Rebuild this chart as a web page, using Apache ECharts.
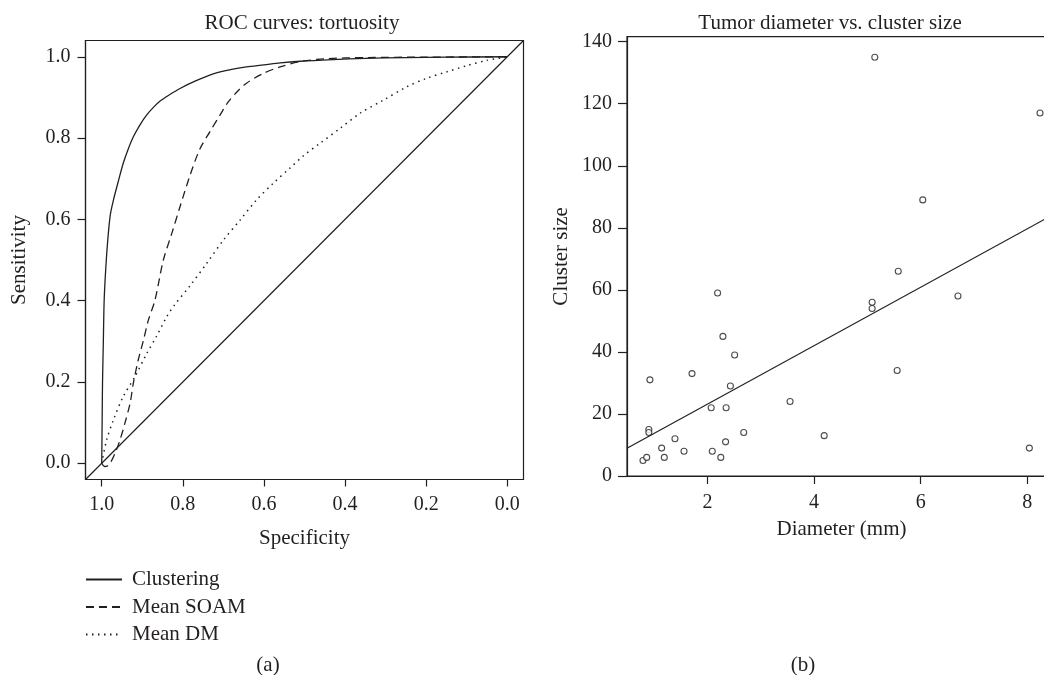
<!DOCTYPE html>
<html>
<head>
<meta charset="utf-8">
<script src="https://cdn.jsdelivr.net/npm/echarts@6/dist/echarts.min.js"></script>
<style>
html,body{margin:0;padding:0;background:#fff;}
#chart{width:1044px;height:675px;}
</style>
</head>
<body>
<div id="chart"></div>
<script>
// ---- Panel (a): ROC curves (specificity, sensitivity) ----
const clusteringSpec = [1.0,0.999,0.998,0.996,0.994,0.99,0.985,0.979,0.971,0.96,0.947,0.935,0.922,0.906,0.889,0.872,0.856,0.832,0.807,0.77,0.725,0.685,0.643,0.60,0.56,0.511,0.43,0.35,0.25,0.15,0.0];
const clusteringSens = [0.0,0.1,0.2,0.3,0.4,0.48,0.55,0.61,0.648,0.69,0.738,0.772,0.803,0.832,0.857,0.876,0.891,0.907,0.922,0.94,0.958,0.968,0.975,0.98,0.985,0.989,0.993,0.996,0.998,0.999,1.0];

const soamSpec = [1.0,0.993,0.985,0.978,0.967,0.955,0.943,0.93,0.922,0.91,0.897,0.885,0.869,0.848,0.827,0.807,0.782,0.758,0.733,0.708,0.688,0.665,0.643,0.602,0.56,0.511,0.45,0.35,0.2,0.0];
const soamSens = [0.0,-0.008,-0.006,0.002,0.025,0.057,0.098,0.148,0.197,0.254,0.303,0.352,0.40,0.5,0.566,0.631,0.709,0.773,0.816,0.857,0.889,0.915,0.935,0.959,0.975,0.988,0.995,0.998,0.999,1.0];

const dmSpec = [1.0,0.988,0.971,0.947,0.918,0.889,0.865,0.84,0.82,0.782,0.741,0.70,0.659,0.618,0.577,0.536,0.503,0.462,0.412,0.363,0.306,0.248,0.199,0.149,0.10,0.051,0.0];
const dmSens = [0.0,0.057,0.107,0.164,0.213,0.27,0.312,0.36,0.39,0.437,0.492,0.549,0.598,0.648,0.689,0.726,0.756,0.787,0.824,0.861,0.893,0.926,0.947,0.963,0.978,0.991,1.0];

const rocTicks = [0, 0.2, 0.4, 0.6, 0.8, 1.0];
const rocRange = [-0.04, 1.04];

// ---- Panel (b): tumor diameter vs cluster size ----
const diameters = [0.79,0.86,0.92,0.90,0.90,1.14,1.19,1.39,1.56,1.71,2.07,2.09,2.19,2.25,2.29,2.35,2.34,2.43,2.51,2.68,3.55,4.19,5.09,5.09,5.14,5.56,5.58,6.04,6.70,8.04,8.24];
const clusterSizes = [5,6,31,15,14,9,6,12,8,33,22,8,59,6,45,22,11,29,39,14,24,13,56,54,135,34,66,89,58,9,117];
const fitIntercept = 4.3;
const fitSlope = 9.42;
const diamTicks = [2, 4, 6, 8];
const sizeTicks = [0, 20, 40, 60, 80, 100, 120, 140];
const diamRange = [0.49, 8.54];
const sizeRange = [0, 141.6];

const legendNames = ['Clustering', 'Mean SOAM', 'Mean DM'];

const INK = '#231f20';
const FONT = '"Liberation Serif", "DejaVu Serif", serif';

function zip(a, b) { return a.map((v, i) => [v, b[i]]); }

const chart = echarts.init(document.getElementById('chart'), null, {renderer: 'canvas'});

const axisCommon = {
  axisLine: {show: true, onZero: false, lineStyle: {color: INK, width: 1.2}},
  splitLine: {show: false},
  axisLabel: {color: INK, fontFamily: FONT, fontSize: 20, margin: 15},
  axisTick: {show: true, length: 8, lineStyle: {color: INK, width: 1.2}},
  nameTextStyle: {color: INK, fontFamily: FONT, fontSize: 21},
  nameLocation: 'middle'
};

function fmt1(v) { return Number(v).toFixed(1); }

const option = {
  backgroundColor: '#ffffff',
  animation: false,
  grid: [
    {left: 85.5, top: 40.5, width: 438, height: 439, show: true, borderColor: INK, borderWidth: 1.2, backgroundColor: 'transparent', outerBoundsMode: 'none', containLabel: false},
    {left: 627, top: 36.7, width: 429, height: 439.3, show: true, borderColor: INK, borderWidth: 1.2, backgroundColor: 'transparent', outerBoundsMode: 'none', containLabel: false}
  ],
  xAxis: [
    Object.assign({}, axisCommon, {
      gridIndex: 0, type: 'value', inverse: true, min: rocRange[0], max: rocRange[1],
      name: 'Specificity', nameGap: 48,
      axisLabel: Object.assign({}, axisCommon.axisLabel, {customValues: rocTicks, formatter: fmt1, margin: 15}),
      axisTick: Object.assign({}, axisCommon.axisTick, {customValues: rocTicks, length: 7})
    }),
    Object.assign({}, axisCommon, {
      gridIndex: 1, type: 'value', min: diamRange[0], max: diamRange[1],
      name: 'Diameter (mm)', nameGap: 43,
      axisLabel: Object.assign({}, axisCommon.axisLabel, {customValues: diamTicks, margin: 17}),
      axisTick: Object.assign({}, axisCommon.axisTick, {customValues: diamTicks, length: 8})
    })
  ],
  yAxis: [
    Object.assign({}, axisCommon, {
      gridIndex: 0, type: 'value', min: rocRange[0], max: rocRange[1],
      name: 'Sensitivity', nameGap: 56,
      axisLabel: Object.assign({}, axisCommon.axisLabel, {customValues: rocTicks, formatter: fmt1}),
      axisTick: Object.assign({}, axisCommon.axisTick, {customValues: rocTicks})
    }),
    Object.assign({}, axisCommon, {
      gridIndex: 1, type: 'value', min: sizeRange[0], max: sizeRange[1],
      name: 'Cluster size', nameGap: 55,
      axisLabel: Object.assign({}, axisCommon.axisLabel, {customValues: sizeTicks}),
      axisTick: Object.assign({}, axisCommon.axisTick, {customValues: sizeTicks, length: 9})
    })
  ],
  legend: {
    data: legendNames,
    orient: 'vertical',
    left: 80,
    top: 564,
    padding: 5,
    itemWidth: 36,
    itemHeight: 12,
    itemGap: 6.5,
    selectedMode: false,
    itemStyle: {color: 'transparent', borderWidth: 0, opacity: 0},
    textStyle: {color: INK, fontFamily: FONT, fontSize: 21, padding: [0, 0, 0, 5]}
  },
  series: [
    {
      name: 'Reference', type: 'line', xAxisIndex: 0, yAxisIndex: 0, symbol: 'none',
      data: [[rocRange[1], rocRange[0]], [rocRange[0], rocRange[1]]],
      lineStyle: {color: INK, width: 1.2}, silent: true, clip: true
    },
    {
      name: 'Clustering', type: 'line', xAxisIndex: 0, yAxisIndex: 0, symbol: 'none', smooth: 0.3,
      data: zip(clusteringSpec, clusteringSens),
      lineStyle: {color: INK, width: 1.3, type: 'solid'}, itemStyle: {color: INK}
    },
    {
      name: 'Mean SOAM', type: 'line', xAxisIndex: 0, yAxisIndex: 0, symbol: 'none', smooth: 0.3,
      data: zip(soamSpec, soamSens),
      lineStyle: {color: INK, width: 1.3, type: [8, 5]}, itemStyle: {color: INK}
    },
    {
      name: 'Mean DM', type: 'line', xAxisIndex: 0, yAxisIndex: 0, symbol: 'none', smooth: 0.3,
      data: zip(dmSpec, dmSens),
      lineStyle: {color: INK, width: 1.5, type: [1.5, 4.5]}, itemStyle: {color: INK}
    },
    {
      name: 'Fit', type: 'line', xAxisIndex: 1, yAxisIndex: 1, symbol: 'none',
      data: diamRange.map(x => [x, fitIntercept + fitSlope * x]),
      lineStyle: {color: INK, width: 1.2}, silent: true, clip: true
    },
    {
      name: 'Tumors', type: 'scatter', xAxisIndex: 1, yAxisIndex: 1,
      symbol: 'circle', symbolSize: 6,
      data: zip(diameters, clusterSizes),
      itemStyle: {color: '#ffffff', borderColor: INK, borderWidth: 1.1}
    }
  ],
  graphic: [
    {type: 'text', x: 302, y: 23, style: {text: 'ROC curves: tortuosity', fill: INK, font: '21px ' + FONT, align: 'center', verticalAlign: 'middle'}},
    {type: 'text', x: 830, y: 23, style: {text: 'Tumor diameter vs. cluster size', fill: INK, font: '21px ' + FONT, align: 'center', verticalAlign: 'middle'}},
    {type: 'text', x: 268, y: 665, style: {text: '(a)', fill: INK, font: '21px ' + FONT, align: 'center', verticalAlign: 'middle'}},
    {type: 'text', x: 803, y: 665, style: {text: '(b)', fill: INK, font: '21px ' + FONT, align: 'center', verticalAlign: 'middle'}}
  ]
};

chart.setOption(option);
</script>
</body>
</html>
